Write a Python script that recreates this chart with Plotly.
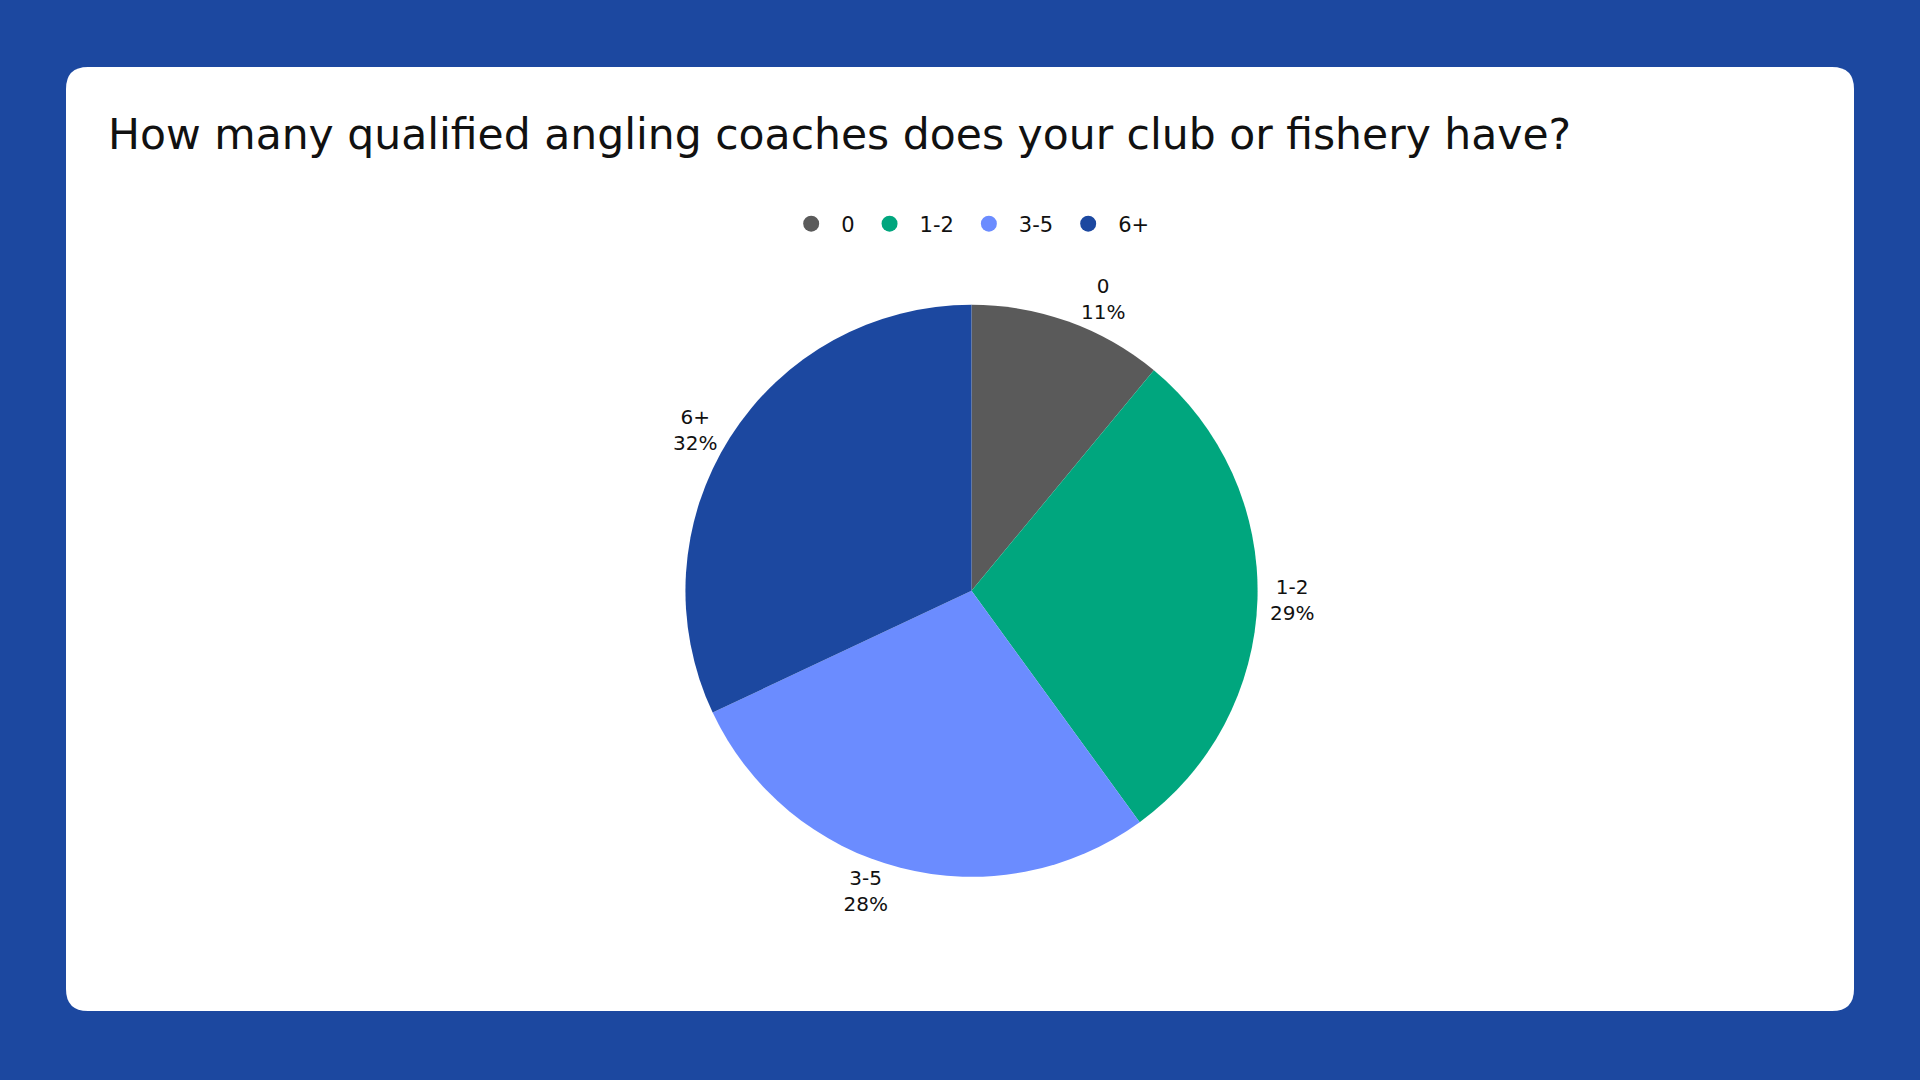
import plotly.graph_objects as go

# survey answers
labels = ["0", "1-2", "3-5", "6+"]
values = [11, 29, 28, 32]
colors = ["#5a5a5a", "#00a67e", "#6b8cff", "#1c48a0"]

title_text = "How many qualified angling coaches does your club or fishery have?"
bg_blue = "#1c48a0"
font_name = "DejaVu Sans"

W, H = 1920, 1080


def card_path(x0, y0, x1, y1, r):
    # rounded rectangle in paper coords, r in px
    rx, ry = r / W, r / H
    X0, X1 = x0 / W, x1 / W
    Y0, Y1 = 1 - y1 / H, 1 - y0 / H
    return (f"M {X0 + rx} {Y1} L {X1 - rx} {Y1} Q {X1} {Y1} {X1} {Y1 - ry} "
            f"L {X1} {Y0 + ry} Q {X1} {Y0} {X1 - rx} {Y0} "
            f"L {X0 + rx} {Y0} Q {X0} {Y0} {X0} {Y0 + ry} "
            f"L {X0} {Y1 - ry} Q {X0} {Y1} {X0 + rx} {Y1} Z")


fig = go.Figure()
fig.add_trace(go.Pie(
    labels=labels, values=values,
    marker=dict(colors=colors),
    sort=False, direction="clockwise", rotation=0,
    textposition="outside",
    texttemplate="%{label}<br>%{percent:.0%}",
    textfont=dict(size=20, color="#111111", family=font_name),
    showlegend=False,
    hoverinfo="label+percent",
    domain=dict(x=[0.357, 0.655], y=[0.188, 0.718]),
))

# legend with round markers
for lab, col in zip(labels, colors):
    fig.add_trace(go.Scatter(
        x=[None], y=[None], mode="markers", name=lab,
        marker=dict(color=col, size=22, symbol="circle"),
    ))

fig.update_layout(
    width=W, height=H,
    paper_bgcolor=bg_blue, plot_bgcolor="rgba(0,0,0,0)",
    margin=dict(l=0, r=0, t=0, b=0),
    font=dict(family=font_name, color="#111111"),
    title=dict(text=title_text, x=108 / W, xanchor="left",
               y=1 - 134 / H, yanchor="middle",
               font=dict(size=42.5, family=font_name, color="#111111")),
    legend=dict(orientation="h", x=0.504, xanchor="center",
                y=1 - 224 / H, yanchor="middle",
                font=dict(size=21, family=font_name),
                bgcolor="rgba(0,0,0,0)", itemwidth=50),
    xaxis=dict(visible=False), yaxis=dict(visible=False),
    shapes=[dict(type="path", xref="paper", yref="paper",
                 path=card_path(66, 67, 1854, 1011, 22),
                 fillcolor="white", line=dict(width=0), layer="below")],
)

fig.write_html("out.html", config={"displayModeBar": False},
               post_script="document.body.style.margin = '0';")
